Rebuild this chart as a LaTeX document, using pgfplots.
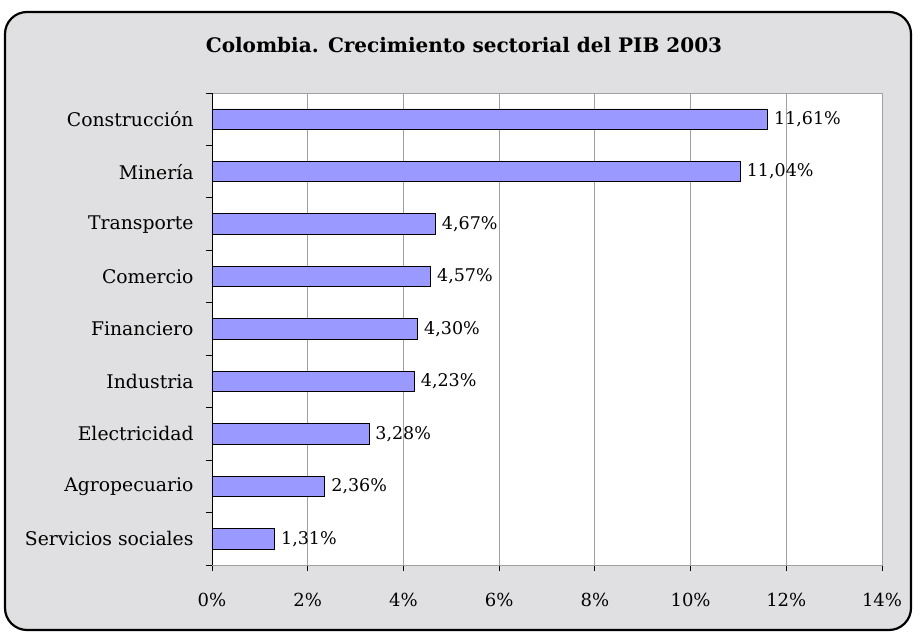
\documentclass[border=0pt]{standalone}
\usepackage{pgfplots}
\pgfplotsset{compat=1.18}
\usepackage{fontspec}
\setmainfont{DejaVu Serif}
\definecolor{barfill}{HTML}{9999FF}
\definecolor{bgmarble}{HTML}{E0E0E2}
\definecolor{gridgray}{HTML}{A0A0A0}
\begin{document}
\fontsize{18.8bp}{22bp}\selectfont
\begin{tikzpicture}[x=1bp,y=1bp]
\useasboundingbox (-212,-69) rectangle (701,565);
\fill[white] (-212,-69) rectangle (701,565);
\draw[line width=2.2bp, rounded corners=22bp, fill=bgmarble] (-207,-65) rectangle (699,553);
\node[font=\bfseries\fontsize{20bp}{23bp}\selectfont, anchor=center] at (252,520) {Colombia. Crecimiento sectorial del PIB 2003};
\begin{axis}[
  at={(0,0)}, anchor=south west,
  scale only axis, width=670bp, height=472bp,
  xbar, bar width=20.5bp,
  xmin=0, xmax=14, ymin=-0.5, ymax=8.5,
  xtick={0,2,...,14},
  ytick={0,...,8},
  yticklabels={Servicios sociales,Agropecuario,Electricidad,Industria,Financiero,Comercio,Transporte,Minería,Construcción},
  minor ytick={-0.5,0.5,...,8.5},
  tick align=outside,
  major y tick style={draw=none},
  minor tick length=6bp, major tick length=6bp,
  xtick pos=bottom, ytick pos=left,
  x tick style={black, line width=0.8bp},
  minor y tick style={black, line width=0.8bp},
  xmajorgrids, grid style={gridgray, line width=0.8bp},
  axis line style={gridgray, line width=0.8bp},
  axis background/.style={fill=white},
  /pgf/number format/assume math mode=true,
  xticklabel={\pgfmathprintnumber{\tick}\%},
  xticklabel style={yshift=-16bp, font=\fontsize{18bp}{20bp}\selectfont},
  yticklabel style={xshift=-6bp},
  nodes near coords={\pgfmathprintnumber[fixed,fixed zerofill,precision=2,use comma,assume math mode=true]{\pgfplotspointmeta}\%},
  nodes near coords align={horizontal},
  every node near coord/.style={anchor=west, inner sep=0bp, xshift=6bp, black, font=\fontsize{17.5bp}{20bp}\selectfont},
  point meta=explicit,
]
\addplot[fill=barfill, draw=black, line width=0.9bp] table[meta=x] {
x y
1.31 0
2.36 1
3.28 2
4.23 3
4.30 4
4.57 5
4.67 6
11.04 7
11.61 8
};
\draw[black, line width=0.9bp] (rel axis cs:0,0) -- (rel axis cs:0,1);
\draw[black, line width=0.9bp] (rel axis cs:0,0) -- (rel axis cs:1,0);
\end{axis}
\end{tikzpicture}
\end{document}
